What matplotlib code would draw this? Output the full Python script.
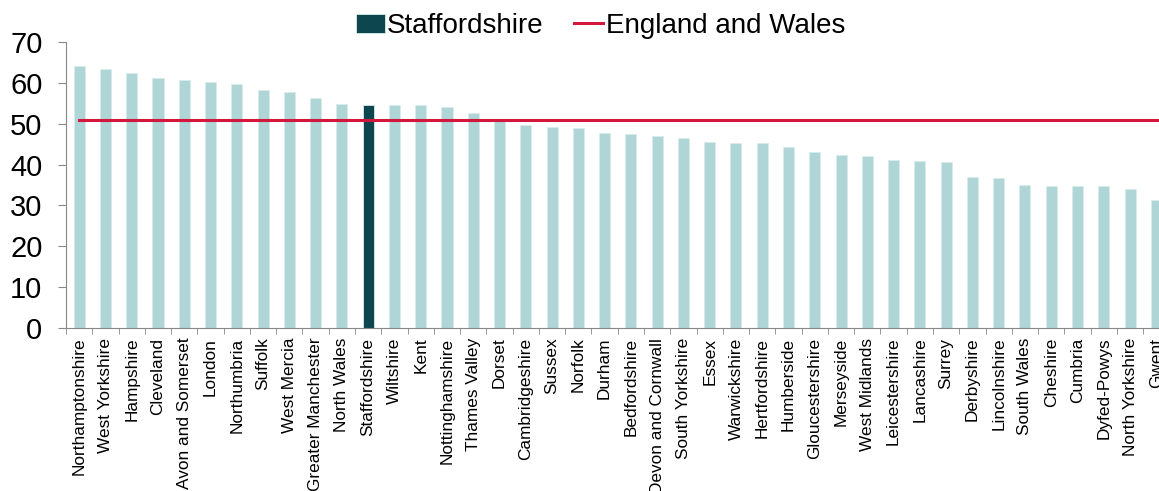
import matplotlib.pyplot as plt
import numpy as np

plt.rcParams['font.family'] = ['Liberation Sans', 'DejaVu Sans']

forces = ['Northamptonshire', 'West Yorkshire', 'Hampshire', 'Cleveland', 'Avon and Somerset',
          'London', 'Northumbria', 'Suffolk', 'West Mercia', 'Greater Manchester', 'North Wales',
          'Staffordshire', 'Wiltshire', 'Kent', 'Nottinghamshire', 'Thames Valley', 'Dorset',
          'Cambridgeshire', 'Sussex', 'Norfolk', 'Durham', 'Bedfordshire', 'Devon and Cornwall',
          'South Yorkshire', 'Essex', 'Warwickshire', 'Hertfordshire', 'Humberside',
          'Gloucestershire', 'Merseyside', 'West Midlands', 'Leicestershire', 'Lancashire',
          'Surrey', 'Derbyshire', 'Lincolnshire', 'South Wales', 'Cheshire', 'Cumbria',
          'Dyfed-Powys', 'North Yorkshire', 'Gwent']
values = [64.1, 63.4, 62.4, 61.1, 60.6, 60.1, 59.8, 58.2, 57.7, 56.2, 54.9,
          54.5, 54.5, 54.5, 54.2, 52.6, 50.6, 49.8, 49.2, 48.9, 47.7, 47.5, 46.9,
          46.6, 45.6, 45.3, 45.3, 44.3, 43.0, 42.3, 42.0, 41.2, 40.9,
          40.6, 37.0, 36.8, 35.0, 34.8, 34.8, 34.8, 34.0, 31.3]
england_wales = 51.0
highlight = 'Staffordshire'

light = '#afd5d7'
dark = '#0e4650'
red = '#d2163c'

fig = plt.figure(figsize=(11.59, 4.91), dpi=100)
# axes runs slightly past the right edge, the last bar is cut off like the source
ax = fig.add_axes([0.057, 0.332, 0.952, 0.5825])

x = np.arange(len(forces))
colors = [dark if f == highlight else light for f in forces]
bars = ax.bar(x, values, width=0.42, color=colors, edgecolor='#d8ecec', linewidth=0.6)
line, = ax.plot([x[0], x[-1] + 1], [england_wales, england_wales], color=red, linewidth=2.2)

ax.set_xlim(-0.5, len(forces) - 0.5)
ax.set_ylim(0, 70)
ax.set_yticks(range(0, 71, 10))
ax.tick_params(axis='y', labelsize=21, length=6, color='#888888', pad=11)
ax.set_xticks(x)
ax.set_xticklabels(forces, rotation=90, fontsize=12.4)
ax.set_xticks(np.arange(-0.5, len(forces), 1), minor=True)
ax.tick_params(axis='x', which='major', length=0, pad=7)
ax.tick_params(axis='x', which='minor', length=4, color='#888888')

for side in ['top', 'right']:
    ax.spines[side].set_visible(False)
for side in ['left', 'bottom']:
    ax.spines[side].set_color('#888888')

fig.legend([bars[forces.index(highlight)], line], ['Staffordshire', 'England and Wales'],
           loc='center', bbox_to_anchor=(0.518, 0.947), ncol=2, frameon=False,
           fontsize=20, handlelength=1.05, handletextpad=0.08, columnspacing=1.1)

fig.savefig('out.png', dpi=100)
